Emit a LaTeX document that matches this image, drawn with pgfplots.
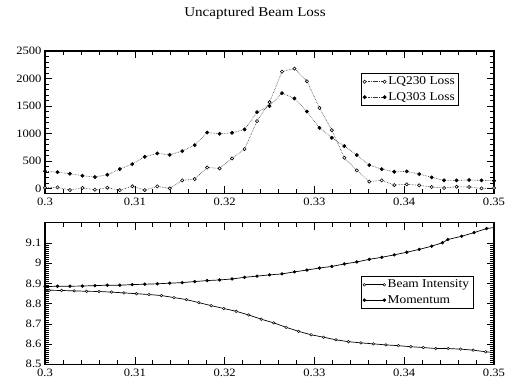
\documentclass[border=0pt]{standalone}
\usepackage{fontspec}
\setmainfont{Liberation Serif}[FakeStretch=1.12]
\usepackage{pgfplots}
\pgfplotsset{compat=1.18}
\begin{document}
\begin{tikzpicture}[x=1bp,y=1bp]
\useasboundingbox (0,0) rectangle (510,385);
\pgfplotsset{
  common/.style={
    scale only axis, width=449bp,
    xmin=0.3, xmax=0.35,
    xtick={0.3,0.31,0.32,0.33,0.34,0.35},
    xticklabels={0.3,0.31,0.32,0.33,0.34,0.35},
    minor x tick num=4,
    tick align=inside,
    axis line style={line width=1.1bp},
    major tick length=7bp, minor tick length=4bp,
    every tick/.style={black, line width=0.6bp},
    tick label style={font=\fontsize{11.3}{13}\selectfont},
    /pgf/number format/assume math mode=true,
    /pgf/number format/1000 sep={},
    scaled ticks=false,
    xticklabel style={yshift=-1.5bp},
    legend style={draw=black, line width=0.8bp, font=\fontsize{12}{14}\selectfont,
      inner sep=2bp, row sep=2pt, anchor=north west, cells={anchor=west}},
    legend image code/.code={\draw[mark repeat=2,mark phase=1,#1] plot coordinates {(0bp,0bp) (10bp,0bp) (20bp,0bp)};},
  },
}
\node at (255,372) {\fontsize{13.5}{15}\selectfont Uncaptured Beam Loss};
\begin{axis}[common, at={(45bp,191.7bp)}, anchor=south west, height=142.3bp,
  ymin=-83, ymax=2500, ytick={0,500,1000,1500,2000,2500}, minor y tick num=4,
  legend style={at={(0.703,0.848)}}]
\addplot[black!80, densely dotted, line width=0.6bp, mark=*, mark size=1.6bp,
  mark options={solid, fill=white, draw=black, line width=0.6bp}] coordinates {
(0.30000,18) (0.30139,25) (0.30278,-24) (0.30417,15) (0.30556,-18) (0.30694,18)
(0.30833,-26) (0.30972,45) (0.31111,-24) (0.31250,42) (0.31389,5) (0.31528,152)
(0.31667,176) (0.31806,385) (0.31944,369) (0.32083,550) (0.32222,719) (0.32361,1228)
(0.32500,1570) (0.32639,2125) (0.32778,2181) (0.32917,1951) (0.33056,1467) (0.33194,1063)
(0.33333,562) (0.33472,333) (0.33611,130) (0.33750,152) (0.33889,67) (0.34028,80)
(0.34167,62) (0.34306,31) (0.34444,13) (0.34583,36) (0.34722,31) (0.34861,7) (0.35000,13)};
\addlegendentry{LQ230 Loss}
\addplot[black!80, densely dotted, line width=0.6bp, mark=*, mark size=1.6bp,
  mark options={solid, fill=black, draw=black}] coordinates {
(0.30000,318) (0.30139,300) (0.30278,272) (0.30417,236) (0.30556,212) (0.30694,254)
(0.30833,357) (0.30972,447) (0.31111,580) (0.31250,641) (0.31389,616) (0.31528,683)
(0.31667,791) (0.31806,1021) (0.31944,997) (0.32083,1015) (0.32222,1076) (0.32361,1390)
(0.32500,1500) (0.32639,1735) (0.32778,1638) (0.32917,1402) (0.33056,1105) (0.33194,924)
(0.33333,774) (0.33472,611) (0.33611,429) (0.33750,355) (0.33889,308) (0.34028,315)
(0.34167,266) (0.34306,206) (0.34444,152) (0.34583,152) (0.34722,158) (0.34861,152) (0.35000,145)};
\addlegendentry{LQ303 Loss}
\end{axis}
\begin{axis}[common, at={(45bp,20.7bp)}, anchor=south west, height=141.6bp,
  ymin=8.5, ymax=9.2, ytick={8.5,8.6,8.7,8.8,8.9,9,9.1},
  yticklabels={8.5,8.6,8.7,8.8,8.9,9,9.1}, minor y tick num=9,
  legend style={at={(0.703,0.626)}}]
\addplot[black, line width=0.7bp, mark=*, mark size=1.3bp,
  mark options={fill=white, draw=black, line width=0.5bp}] coordinates {
(0.29907,8.867) (0.30046,8.866) (0.30185,8.865) (0.30324,8.863) (0.30463,8.861) (0.30601,8.860)
(0.30740,8.857) (0.30879,8.853) (0.31018,8.849) (0.31157,8.845) (0.31296,8.840) (0.31435,8.830)
(0.31574,8.820) (0.31713,8.805) (0.31851,8.790) (0.31990,8.776) (0.32129,8.762) (0.32268,8.744)
(0.32407,8.723) (0.32546,8.705) (0.32685,8.683) (0.32824,8.663) (0.32963,8.646) (0.33101,8.634)
(0.33240,8.621) (0.33379,8.612) (0.33518,8.606) (0.33657,8.601) (0.33796,8.596) (0.33935,8.592)
(0.34074,8.587) (0.34213,8.583) (0.34351,8.578) (0.34490,8.578) (0.34629,8.575) (0.34768,8.570)
(0.34907,8.562) (0.35046,8.556)};
\addlegendentry{Beam Intensity}
\addplot[black, line width=0.7bp, mark=*, mark size=1.3bp,
  mark options={fill=black, draw=black}] coordinates {
(0.30000,8.884) (0.30139,8.886) (0.30278,8.886) (0.30417,8.887) (0.30556,8.889) (0.30694,8.891)
(0.30833,8.891) (0.30972,8.894) (0.31111,8.896) (0.31250,8.898) (0.31389,8.901) (0.31528,8.904)
(0.31667,8.909) (0.31806,8.914) (0.31944,8.917) (0.32083,8.922) (0.32222,8.930) (0.32361,8.936)
(0.32500,8.942) (0.32639,8.947) (0.32778,8.957) (0.32917,8.966) (0.33056,8.976) (0.33194,8.984)
(0.33333,8.996) (0.33472,9.006) (0.33611,9.019) (0.33750,9.029) (0.33889,9.041) (0.34028,9.054)
(0.34167,9.068) (0.34306,9.084) (0.34426,9.101) (0.34486,9.117) (0.34639,9.133) (0.34778,9.151)
(0.34917,9.171) (0.35056,9.180)};
\addlegendentry{Momentum}
\end{axis}
\end{tikzpicture}
\end{document}
